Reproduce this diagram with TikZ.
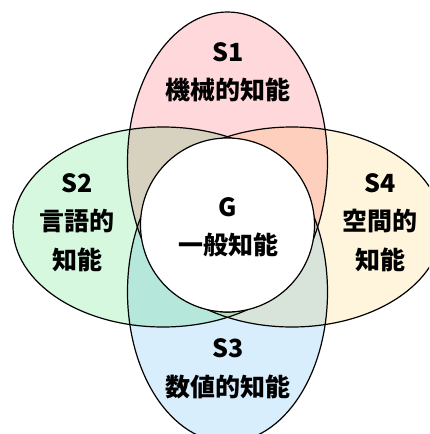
\documentclass[tikz,border=0pt]{standalone}
\usepackage{fontspec}
\setmainfont{Noto Sans CJK JP}
\definecolor{pinkc}{RGB}{255,216,220}
\definecolor{greenc}{RGB}{214,248,222}
\definecolor{yellowc}{RGB}{255,245,220}
\definecolor{bluec}{RGB}{216,238,252}
\tikzset{
  outline/.style={draw=black, line width=1.2pt},
  lab/.style={font=\bfseries\fontsize{25}{29}\selectfont, text=black, inner sep=0pt, anchor=center},
}
\begin{document}
\begin{tikzpicture}[x=1pt,y=-1pt]
\useasboundingbox (0,0) rectangle (429,434);
\clip (0,0) rectangle (429,434);
\fill[white] (0,0) rectangle (429,434);
\begin{scope}[blend group=multiply]
  \fill[pinkc]   (227.5,162) ellipse [x radius=100, y radius=150];
  \fill[greenc]  (163,227) ellipse [x radius=150, y radius=100];
  \fill[yellowc] (292,227) ellipse [x radius=150, y radius=100];
  \fill[bluec]   (227.5,292) ellipse [x radius=100, y radius=150];
\end{scope}
\draw[outline] (227.5,162) ellipse [x radius=100, y radius=150];
\draw[outline] (163,227) ellipse [x radius=150, y radius=100];
\draw[outline] (292,227) ellipse [x radius=150, y radius=100];
\draw[outline] (227.5,292) ellipse [x radius=100, y radius=150];
\draw[outline, fill=white] (227.5,225) circle [radius=87];
\node[lab] (s1) at (228,52) {S1};
\node[lab] (s1t) at (228,90) {機械的知能};
\node[lab] (s2) at (77,183) {S2};
\node[lab] (s2t) at (77,221) {言語的};
\node[lab] (s2u) at (77,260) {知能};
\node[lab] (s4) at (380,183) {S4};
\node[lab] (s4t) at (380,221) {空間的};
\node[lab] (s4u) at (380,260) {知能};
\node[lab] (g) at (228,207) {G};
\node[lab] (gt) at (228,245) {一般知能};
\node[lab] (s3) at (228,348) {S3};
\node[lab] (s3t) at (228,387) {数値的知能};
\end{tikzpicture}
\end{document}
